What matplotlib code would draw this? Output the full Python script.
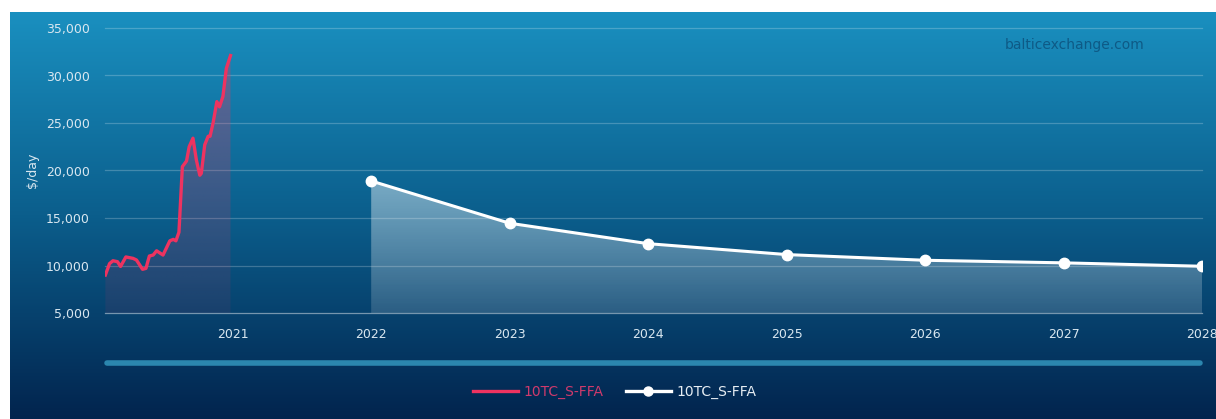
"""
Baltic 10TC_S-FFA: spot history 2020 + forward curve 2022-2028
"""

import numpy as np
import pandas as pd
import matplotlib
matplotlib.use('Agg')
import matplotlib.pyplot as plt
import matplotlib.dates as mdates
from matplotlib.ticker import FuncFormatter
from matplotlib.lines import Line2D

# datos
red_dates = ['2020-01-31', '2020-02-11', '2020-02-20', '2020-03-03', '2020-03-11',
             '2020-03-25', '2020-04-13', '2020-04-22', '2020-05-08', '2020-05-17',
             '2020-05-26', '2020-06-05', '2020-06-14', '2020-07-01', '2020-07-19',
             '2020-07-28', '2020-08-04', '2020-08-12', '2020-08-21', '2020-09-01',
             '2020-09-08', '2020-09-18', '2020-09-27', '2020-10-06', '2020-10-10',
             '2020-10-19', '2020-10-28', '2020-11-02', '2020-11-10', '2020-11-20',
             '2020-11-27', '2020-12-06', '2020-12-15', '2020-12-26']
red_values = [9000, 10200, 10500, 10400, 9900,
              10900, 10750, 10580, 9600, 9700,
              11000, 11100, 11550, 11100, 12600,
              12750, 12600, 13500, 20400, 21000,
              22500, 23400, 21100, 19500, 19700,
              22700, 23600, 23600, 25000, 27250,
              26700, 27800, 30750, 32100]

ffa_dates = ['2022-01-01', '2023-01-01', '2024-01-01', '2025-01-01',
             '2026-01-01', '2027-01-01', '2028-01-01']
ffa_values = [18900, 14450, 12300, 11150, 10550, 10280, 9920]

year_ticks = ['2021', '2022', '2023', '2024', '2025', '2026', '2027', '2028']
y_ticks = [5000, 10000, 15000, 20000, 25000, 30000, 35000]
legend_labels = ['10TC_S-FFA', '10TC_S-FFA']

RED = '#ee3360'
RED_TXT = '#cf3a6c'
TXT = '#d9e7f0'

W, H = 1216, 419
fig = plt.figure(figsize=(W / 100, H / 100), dpi=100, facecolor='white')

# fondo con degradado
bg = fig.add_axes([10 / W, 0, 1 - 10 / W, (H - 12) / H], zorder=-10)
bg.axis('off')
t = np.linspace(0, 1, 256)[:, None]
top = np.array([26, 144, 192]) / 255
mid = np.array([11, 94, 140]) / 255
bot = np.array([2, 36, 78]) / 255
grad = np.where(t < 0.5, top + (mid - top) * (t / 0.5), mid + (bot - mid) * ((t - 0.5) / 0.5))
bg.imshow(grad.reshape(256, 1, 3), aspect='auto', extent=[0, 1, 0, 1])

ax = fig.add_axes([105 / W, (H - 313) / H, (1202 - 105) / W, (313 - 28) / H])
ax.set_facecolor('none')

rd = pd.to_datetime(red_dates)
fd = pd.to_datetime(ffa_dates)
ymin, ymax = 5000, 35000


def gradient_fill(x, y, rgb, a_top, a_bot):
    poly = ax.fill_between(x, y, ymin, color='none', lw=0)
    xn = mdates.date2num(x)
    g = np.zeros((200, 1, 4))
    g[:, 0, :3] = rgb
    g[:, 0, 3] = np.linspace(a_top, a_bot, 200)
    im = ax.imshow(g, aspect='auto', origin='upper',
                   extent=[xn.min(), xn.max(), ymin, max(y)], zorder=1)
    path = poly.get_paths()[0]
    im.set_clip_path(path, transform=ax.transData)


gradient_fill(rd, red_values, matplotlib.colors.to_rgb(RED), 0.35, 0.08)
gradient_fill(fd, ffa_values, (1, 1, 1), 0.45, 0.15)

ax.plot(rd, red_values, color=RED, lw=2.4, zorder=3, solid_joinstyle='round')
ax.plot(fd, ffa_values, color='white', lw=2.2, marker='o', ms=7.5, zorder=4)

ax.set_xlim(pd.Timestamp('2020-01-30'), pd.Timestamp('2028-01-01'))
ax.set_ylim(ymin, ymax)
ax.set_aspect('auto')

for v in y_ticks:
    ax.axhline(v, color='white', alpha=0.45 if v == ymin else 0.22, lw=0.9,
               zorder=2 if v == ymin else 0.5, clip_on=False)

ax.set_xticks(pd.to_datetime([y + '-01-01' for y in year_ticks]))
ax.set_xticklabels(year_ticks)
ax.set_yticks(y_ticks)
ax.yaxis.set_major_formatter(FuncFormatter(lambda v, p: f'{v:,.0f}'))
ax.tick_params(length=0, colors=TXT, labelsize=9)
ax.tick_params(axis='x', pad=11)
ax.tick_params(axis='y', pad=11)
for s in ax.spines.values():
    s.set_visible(False)

fig.text(32 / W, 1 - 170 / H, '$/day', rotation=90, color=TXT, fontsize=9,
         ha='center', va='center')

fig.text(1075 / W, 1 - 45 / H, 'balticexchange.com', color='#0e5a86', fontsize=10,
         ha='center', va='center')

# barra de navegacion
fig.add_artist(Line2D([107 / W, 1200 / W], [1 - 363 / H] * 2, color='#2b86ae',
                      lw=4, solid_capstyle='round', transform=fig.transFigure))

handles = [Line2D([], [], color=RED, lw=2.4),
           Line2D([], [], color='white', lw=2.4, marker='o', ms=6.5)]
leg = fig.legend(handles, legend_labels, loc='center', ncol=2, frameon=False,
                 bbox_to_anchor=(615 / W, 1 - 392 / H), fontsize=10,
                 handlelength=3.2, handletextpad=0.45, columnspacing=1.6)
for txt, c in zip(leg.get_texts(), [RED_TXT, '#e6edf3']):
    txt.set_color(c)

fig.savefig('out.png', dpi=100)
